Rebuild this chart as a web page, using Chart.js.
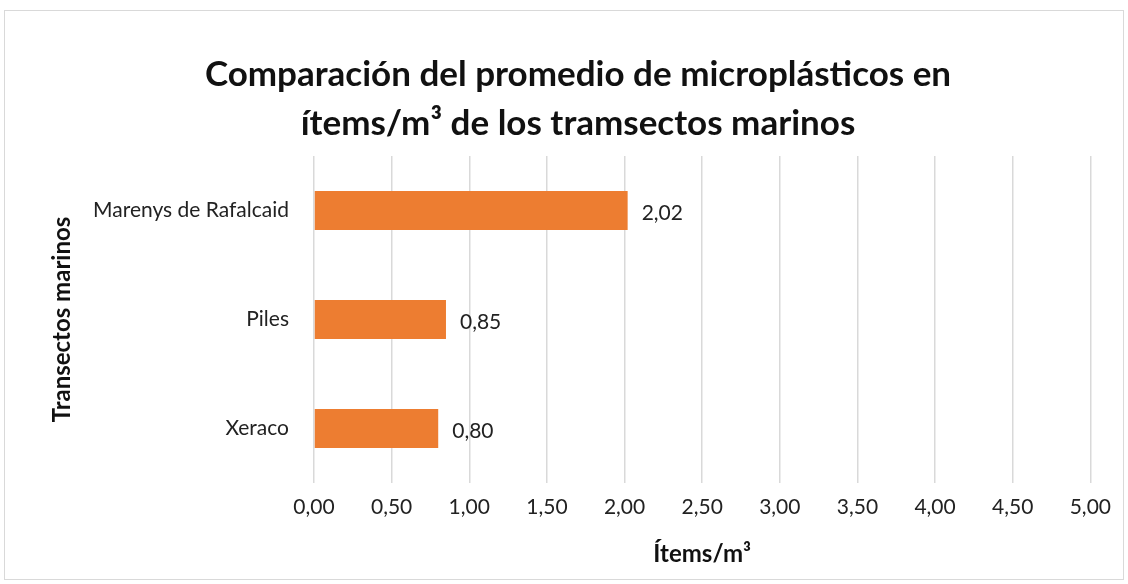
<!DOCTYPE html>
<html lang="es">
<head>
    <meta charset="UTF-8">
    <title>Microplásticos en transectos marinos</title>
    <script src="https://cdn.jsdelivr.net/npm/chart.js"></script>
    <style>
        body { margin: 0; background: #fff; }
        #box { position: absolute; left: 4px; top: 10px; width: 1120px; height: 570px; border: 1px solid #d9d9d9; box-sizing: border-box; }
    </style>
</head>
<body>
    <div id="box"><canvas id="chart" width="1118" height="568"></canvas></div>

    <script>
        const transects = ['Marenys de Rafalcaid', 'Piles', 'Xeraco'];
        const meanItems = [2.02, 0.85, 0.80];
        const titleLines = ['Comparación del promedio de microplásticos en', 'ítems/m³ de los tramsectos marinos'];
        const xTitle = 'Ítems/m³';
        const yTitle = 'Transectos marinos';

        const fontFamily = 'Lato, "Open Sans", sans-serif';
        const comma = v => Number(v).toFixed(2).replace('.', ',');

        // value labels next to bar ends
        const barLabels = {
            id: 'barLabels',
            afterDatasetsDraw(chart) {
                const ctx = chart.ctx;
                ctx.save();
                ctx.font = '21px ' + fontFamily;
                ctx.fillStyle = '#222';
                ctx.textBaseline = 'middle';
                chart.getDatasetMeta(0).data.forEach((bar, i) => {
                    ctx.fillText(comma(meanItems[i]), bar.x + 14, bar.y + 3);
                });
                ctx.restore();
            }
        };

        new Chart(document.getElementById('chart'), {
            type: 'bar',
            data: {
                labels: transects,
                datasets: [{
                    data: meanItems,
                    backgroundColor: '#ED7D31',
                    categoryPercentage: 0.72,
                    barPercentage: 0.5
                }]
            },
            options: {
                indexAxis: 'y',
                responsive: false,
                animation: false,
                layout: { padding: { left: 43, right: 15, top: 0, bottom: 10 } },
                plugins: {
                    legend: { display: false },
                    tooltip: { enabled: false },
                    title: {
                        display: true,
                        text: titleLines,
                        color: '#111',
                        font: { family: fontFamily, size: 35, weight: 'bold', lineHeight: 1.4 },
                        padding: { top: 39, bottom: 8 }
                    }
                },
                scales: {
                    x: {
                        min: 0,
                        max: 5,
                        ticks: {
                            stepSize: 0.5,
                            color: '#222',
                            font: { family: fontFamily, size: 21 },
                            padding: 12,
                            callback: v => comma(v)
                        },
                        grid: { color: '#d9d9d9', lineWidth: 1.5, drawTicks: false },
                        border: { display: false },
                        title: {
                            display: true,
                            text: xTitle,
                            color: '#111',
                            font: { family: fontFamily, size: 24, weight: 'bold' },
                            padding: { top: 8, bottom: 0 }
                        }
                    },
                    y: {
                        ticks: {
                            color: '#222',
                            font: { family: fontFamily, size: 21 },
                            padding: 17
                        },
                        grid: { display: false },
                        border: { display: false },
                        title: {
                            display: true,
                            text: yTitle,
                            color: '#111',
                            font: { family: fontFamily, size: 24, weight: 'bold' },
                            padding: 0
                        },
                        afterFit(scale) { scale.width = 266; }
                    }
                }
            },
            plugins: [barLabels]
        });
    </script>
</body>
</html>
